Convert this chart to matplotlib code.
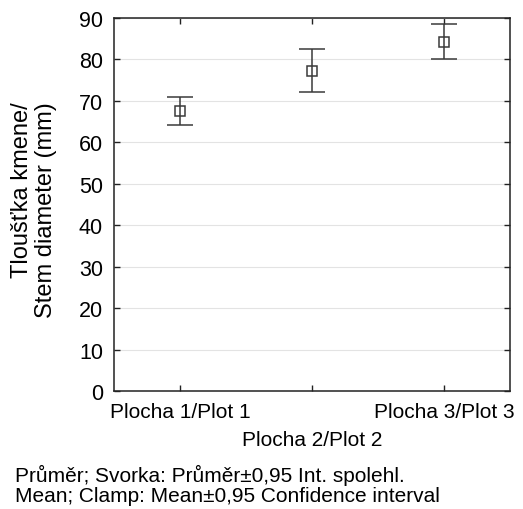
import matplotlib
matplotlib.use("Agg")
import matplotlib.pyplot as plt

plt.rcParams['font.family'] = ['Liberation Sans', 'DejaVu Sans']

categories = ["Plocha 1/Plot 1", "Plocha 2/Plot 2", "Plocha 3/Plot 3"]
means = [67.6, 77.2, 84.1]
ci_low = [64.3, 72.2, 80.1]
ci_high = [70.9, 82.4, 88.5]
y_ticks = [0, 10, 20, 30, 40, 50, 60, 70, 80, 90]

fig = plt.figure(figsize=(5.23, 5.10), dpi=100)
ax = fig.add_axes([114/523, 1 - 392/510, 396/523, 373/510])

x = list(range(len(categories)))
yerr = [[m - lo for m, lo in zip(means, ci_low)],
        [hi - m for m, hi in zip(means, ci_high)]]
ax.errorbar(x, means, yerr=yerr, fmt='s', mfc='none', mec='#3a3a3a',
            ms=7, mew=1.1, ecolor='#3a3a3a', elinewidth=1.1, capsize=9.5,
            capthick=1.1, zorder=3)

ax.set_xlim(-0.5, 2.5)
ax.set_ylim(0, 90)
ax.set_yticks(y_ticks)
ax.set_xticks(x)
ax.set_xticklabels([])
ax.grid(axis='y', color='#e3e3e3', lw=0.8)
ax.set_axisbelow(True)
ax.tick_params(direction='in', length=4, width=1, top=True, right=True,
               labelsize=15.5, pad=8, color='#222222')
for s in ax.spines.values():
    s.set_linewidth(1.1)
    s.set_color('#222222')

# staggered category labels
for xi, lab in zip(x, categories):
    off = 27 if xi % 2 else 0
    ax.annotate(lab, xy=(xi, 0), xycoords=('data', 'axes fraction'),
                xytext=(0, -21 - off), textcoords='offset pixels',
                ha='center', va='center', fontsize=15)

fig.text(34/523, 1 - 210/510, "Tloušťka kmene/\nStem diameter (mm)",
         rotation=90, ha='center', va='center', fontsize=17,
         linespacing=1.1, multialignment='right')

fig.text(15/523, 1 - 475/510, "Průměr; Svorka: Průměr±0,95 Int. spolehl.",
         ha='left', va='center', fontsize=15)
fig.text(15/523, 1 - 497/510, "Mean; Clamp: Mean±0,95 Confidence interval",
         ha='left', va='center', fontsize=15)

fig.savefig("out.png", dpi=100)
